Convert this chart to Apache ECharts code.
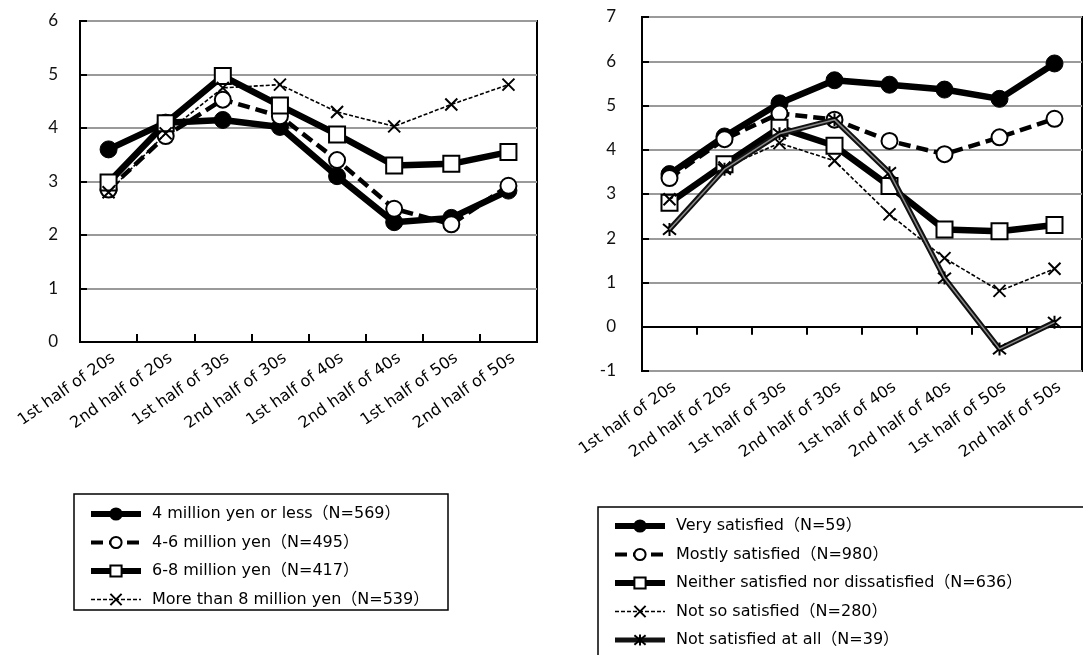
<!DOCTYPE html>
<html>
<head>
<meta charset="utf-8">
<script src="https://cdn.jsdelivr.net/npm/echarts@6/dist/echarts.min.js"></script>
<style>
html,body{margin:0;padding:0;background:#fff;}
#chart{width:1083px;height:655px;}
</style>
</head>
<body>
<div id="chart"></div>
<script>
// ---- data ----
var categories = ['1st half of 20s','2nd half of 20s','1st half of 30s','2nd half of 30s','1st half of 40s','2nd half of 40s','1st half of 50s','2nd half of 50s'];
var leftYTicks = [0, 6, 1];   // min, max, interval
var rightYTicks = [-1, 7, 1];

var incomeNames = ['4 million yen or less（N=569）','4-6 million yen（N=495）','6-8 million yen（N=417）','More than 8 million yen（N=539）'];
var income4less = [3.6, 4.1, 4.15, 4.02, 3.1, 2.24, 2.32, 2.83];
var income4to6  = [2.85, 3.85, 4.53, 4.22, 3.4, 2.49, 2.2, 2.92];
var income6to8  = [2.98, 4.09, 4.97, 4.42, 3.88, 3.3, 3.33, 3.55];
var incomeOver8 = [2.8, 3.9, 4.75, 4.81, 4.3, 4.03, 4.44, 4.81];

var satNames = ['Very satisfied（N=59）','Mostly satisfied（N=980）','Neither satisfied nor dissatisfied（N=636）','Not so satisfied（N=280）','Not satisfied at all（N=39）'];
var verySat   = [3.45, 4.3, 5.05, 5.57, 5.47, 5.36, 5.15, 5.95];
var mostlySat = [3.36, 4.24, 4.82, 4.68, 4.2, 3.9, 4.28, 4.7];
var neither   = [2.8, 3.67, 4.5, 4.09, 3.18, 2.2, 2.16, 2.3];
var notSo     = [2.88, 3.6, 4.15, 3.75, 2.54, 1.55, 0.81, 1.31];
var notAtAll  = [2.2, 3.56, 4.36, 4.68, 3.48, 1.1, -0.5, 0.1];

// ---- styles ----
var TXT = '"DejaVu Sans", "Noto Sans CJK JP", sans-serif';
var NUM = 'Lato';
var X_PATH = 'path://M0,0L10,10M10,0L0,10';
var AST_PATH = 'path://M0,0L10,10M10,0L0,10M5,-1L5,11';
var THICK = 6.5, DASHW = 4.5;

function filledCircle(name, data, xi, yi) {
  return {name:name, type:'line', xAxisIndex:xi, yAxisIndex:yi, data:data,
    symbol:'circle', symbolSize:17, lineStyle:{color:'#000', width:THICK},
    itemStyle:{color:'#000', borderColor:'#000', borderWidth:1}, z:2};
}
function openCircle(name, data, xi, yi) {
  return {name:name, type:'line', xAxisIndex:xi, yAxisIndex:yi, data:data,
    symbol:'circle', symbolSize:16, lineStyle:{color:'#000', width:DASHW, type:[12,6]},
    itemStyle:{color:'#fff', borderColor:'#000', borderWidth:2}, z:3};
}
function openSquare(name, data, xi, yi) {
  return {name:name, type:'line', xAxisIndex:xi, yAxisIndex:yi, data:data,
    symbol:'rect', symbolSize:16, lineStyle:{color:'#000', width:THICK},
    itemStyle:{color:'#fff', borderColor:'#000', borderWidth:2}, z:4};
}
function crossDotted(name, data, xi, yi) {
  return {name:name, type:'line', xAxisIndex:xi, yAxisIndex:yi, data:data,
    symbol:X_PATH, symbolSize:12, lineStyle:{color:'#000', width:1.6, type:[4,2]},
    itemStyle:{color:'#000', borderColor:'#000', borderWidth:2}, z:5};
}

function catAxis(gi, showLabel, showLine, onZero) {
  return {type:'category', gridIndex:gi, data:categories, boundaryGap:true,
    axisLine:{show:showLine, onZero:onZero, lineStyle:{color:'#000', width:2}},
    axisTick:{show:showLine, inside:true, length:8, lineStyle:{color:'#000', width:2}},
    axisLabel:{show:showLabel, rotate:35, margin:18, interval:0, color:'#000', fontFamily:TXT, fontSize:16, padding:[0,-6,0,0]},
    splitLine:{show:false}};
}
function valAxis(gi, t, margin) {
  return {type:'value', gridIndex:gi, min:t[0], max:t[1], interval:t[2],
    axisLine:{show:true, lineStyle:{color:'#000', width:2}},
    axisTick:{show:true, inside:true, length:7, lineStyle:{color:'#000', width:2}},
    axisLabel:{color:'#111', fontFamily:NUM, fontSize:17, margin:margin},
    splitLine:{show:true, lineStyle:{color:'#9a9a9a', width:2}}};
}
function legendData(names, widths) {
  return names.map(function (n, i) { return {name:n, lineStyle:{width:widths[i]}}; });
}
var legendText = {color:'#000', fontFamily:TXT, fontSize:16, lineHeight:16, padding:[0,0,0,6]};

var chart = echarts.init(document.getElementById('chart'), null, {renderer:'canvas'});
chart.setOption({
  backgroundColor:'#fff',
  animation:false,
  grid:[
    {left:80, top:21, right:546, bottom:313, show:true, borderColor:'#000', borderWidth:2, backgroundColor:'transparent'},
    {left:642, top:17, right:1, bottom:284, show:true, borderColor:'#000', borderWidth:2, backgroundColor:'transparent'}
  ],
  xAxis:[
    catAxis(0, true, true, false),
    catAxis(1, true, false, false),
    catAxis(1, false, true, true)
  ],
  yAxis:[
    valAxis(0, leftYTicks, 22),
    valAxis(1, rightYTicks, 26)
  ],
  graphic:[
    {type:'rect', shape:{x:74, y:494, width:374, height:116}, style:{fill:'none', stroke:'#000', lineWidth:1.5}, z:0},
    {type:'rect', shape:{x:598, y:507, width:500, height:160}, style:{fill:'none', stroke:'#000', lineWidth:1.5}, z:0}
  ],
  legend:[
    {data:legendData(incomeNames, [6, 4, 6, 1.5]), orient:'vertical', left:88, top:506, height:200, padding:0,
     itemWidth:50, itemHeight:14, itemGap:12.5, textStyle:legendText, selectedMode:false},
    {data:legendData(satNames, [6, 4, 6, 1.5, 5]), orient:'vertical', left:612, top:518, height:200, padding:0,
     itemWidth:50, itemHeight:14, itemGap:12.5, textStyle:legendText, selectedMode:false}
  ],
  series:[
    filledCircle(incomeNames[0], income4less, 0, 0),
    openCircle(incomeNames[1], income4to6, 0, 0),
    openSquare(incomeNames[2], income6to8, 0, 0),
    crossDotted(incomeNames[3], incomeOver8, 0, 0),

    filledCircle(satNames[0], verySat, 1, 1),
    openCircle(satNames[1], mostlySat, 1, 1),
    openSquare(satNames[2], neither, 1, 1),
    crossDotted(satNames[3], notSo, 1, 1),
    {name:satNames[4], type:'line', xAxisIndex:1, yAxisIndex:1, data:notAtAll,
     symbol:AST_PATH, symbolSize:13, lineStyle:{color:'#111', width:5.5},
     itemStyle:{color:'#000', borderColor:'#000', borderWidth:2}, z:6},
    {name:'notAtAllInner', type:'line', xAxisIndex:1, yAxisIndex:1, data:notAtAll,
     symbol:'none', lineStyle:{color:'#8a8a8a', width:1.5}, z:7, silent:true}
  ]
});
</script>
</body>
</html>
